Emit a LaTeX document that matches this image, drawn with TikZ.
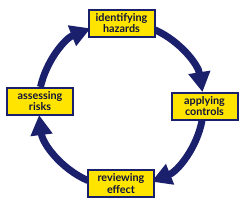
\documentclass[tikz,border=0pt]{standalone}
\usepackage{fontspec}
\setmainfont{Lato}
\usetikzlibrary{arrows.meta}
\definecolor{navy}{RGB}{27,32,108}
\definecolor{boxyellow}{RGB}{255,228,0}
\tikzset{
  stepbox/.style={draw=navy, line width=2pt, fill=boxyellow, minimum width=66pt, minimum height=27pt,
    inner sep=0pt, align=center, text=navy!55!black, font=\fontsize{10.8}{11.3}\selectfont\bfseries},
  ring/.style={draw=navy, line width=7pt, -{Triangle[length=20pt,width=21pt]}}
}
\begin{document}
\begin{tikzpicture}[x=1pt,y=1pt]
\useasboundingbox (0,0) rectangle (245,-206);
\coordinate (c) at (121,-105);
\def\R{82.5}
\draw[ring] ([shift={(65.7:\R)}]c) arc[start angle=65.7, end angle=9, radius=\R];
\draw[ring] ([shift={(-10.5:\R)}]c) arc[start angle=-10.5, end angle=-68.3, radius=\R];
\draw[ring] ([shift={(-113.6:\R)}]c) arc[start angle=-113.6, end angle=-173, radius=\R];
\draw[ring] ([shift={(167.4:\R)}]c) arc[start angle=167.4, end angle=111.7, radius=\R];
\node[stepbox] (idh) at (121.5,-23) {identifying\\hazards};
\node[stepbox] (apc) at (204.5,-106) {applying\\controls};
\node[stepbox] (rev) at (121,-183.5) {reviewing\\effect};
\node[stepbox] (asr) at (40,-101) {assessing\\risks};
\end{tikzpicture}
\end{document}
